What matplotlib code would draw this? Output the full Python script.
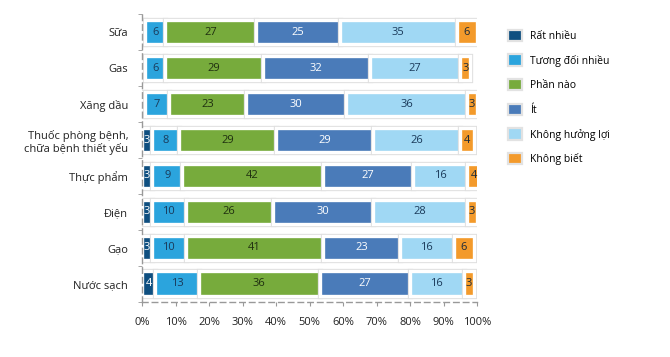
import matplotlib.pyplot as plt
import numpy as np

plt.rcParams['font.family'] = ['Open Sans', 'DejaVu Sans']

# Categories (top to bottom) and response shares in %
categories = ['Sữa', 'Gas', 'Xăng dầu', 'Thuốc phòng bệnh,\nchữa bệnh thiết yếu',
              'Thực phẩm', 'Điện', 'Gạo', 'Nước sạch']
rat_nhieu = [1, 1, 1, 3, 3, 3, 3, 4]
tuong_doi = [6, 6, 7, 8, 9, 10, 10, 13]
phan_nao = [27, 29, 23, 29, 42, 26, 41, 36]
it = [25, 32, 30, 29, 27, 30, 23, 27]
khong_huong = [35, 27, 36, 26, 16, 28, 16, 16]
khong_biet = [6, 3, 3, 4, 4, 3, 6, 3]

series_names = ['Rất nhiều', 'Tương đối nhiều', 'Phần nào', 'Ít',
                'Không hưởng lợi', 'Không biết']
series = [rat_nhieu, tuong_doi, phan_nao, it, khong_huong, khong_biet]
colors = ['#0f4f80', '#2ba4dd', '#77ab3c', '#4a7bb9', '#a0d8f4', '#f39a2b']
text_colors = ['white', '#1a3a5a', '#1f2f10', 'white', '#1a3a5a', '#1a2a3a']

fig = plt.figure(figsize=(6.7, 3.57), dpi=100)
ax = fig.add_axes([0.212, 0.155, 0.5, 0.81])

y = np.arange(len(categories))
left = np.zeros(len(categories))
for name, vals, c, tc in zip(series_names, series, colors, text_colors):
    vals = np.array(vals, dtype=float)
    # soft grey outline behind each segment
    ax.barh(y, vals, left=left, height=0.68, color='white',
            edgecolor='#dedede', linewidth=3.8)
    bars = ax.barh(y, vals, left=left, height=0.68, color=c,
                   edgecolor='white', linewidth=2.4, label=name)
    for b, v in zip(bars, vals):
        if v >= 2:
            ax.text(b.get_x() + b.get_width() / 2, b.get_y() + b.get_height() / 2,
                    f'{int(v)}', ha='center', va='center', fontsize=8, color=tc)
    left += vals

ax.set_ylim(len(categories) - 0.5, -0.55)
ax.set_xlim(0, 100)
ax.set_yticks(y)
ax.set_yticklabels(categories, fontsize=8, color='#222222')
ax.set_yticks(np.arange(-0.5, len(categories), 1), minor=True)
ax.tick_params(axis='y', which='major', length=0, pad=10)
ax.tick_params(axis='y', which='minor', length=3, color='#999999')
ax.set_xticks(np.arange(0, 101, 10))
ax.set_xticklabels([f'{t}%' for t in range(0, 101, 10)], fontsize=8, color='#222222')
ax.tick_params(axis='x', length=3, color='#999999', pad=8)

for s in ['top', 'right']:
    ax.spines[s].set_visible(False)
for s in ['left', 'bottom']:
    ax.spines[s].set_linestyle((0, (4, 3)))
    ax.spines[s].set_color('#999999')
    ax.spines[s].set_linewidth(1)

handles, labels = ax.get_legend_handles_labels()
leg = ax.legend(handles, labels, loc='upper left', bbox_to_anchor=(1.08, 0.955),
                frameon=False, fontsize=7.5, handlelength=1.3, handleheight=1.3,
                labelspacing=1.2, borderaxespad=0, handletextpad=0.8)
for h in leg.legend_handles:
    h.set_edgecolor('#e2e2e2')
    h.set_linewidth(1.6)

fig.savefig('out.png', dpi=100)
